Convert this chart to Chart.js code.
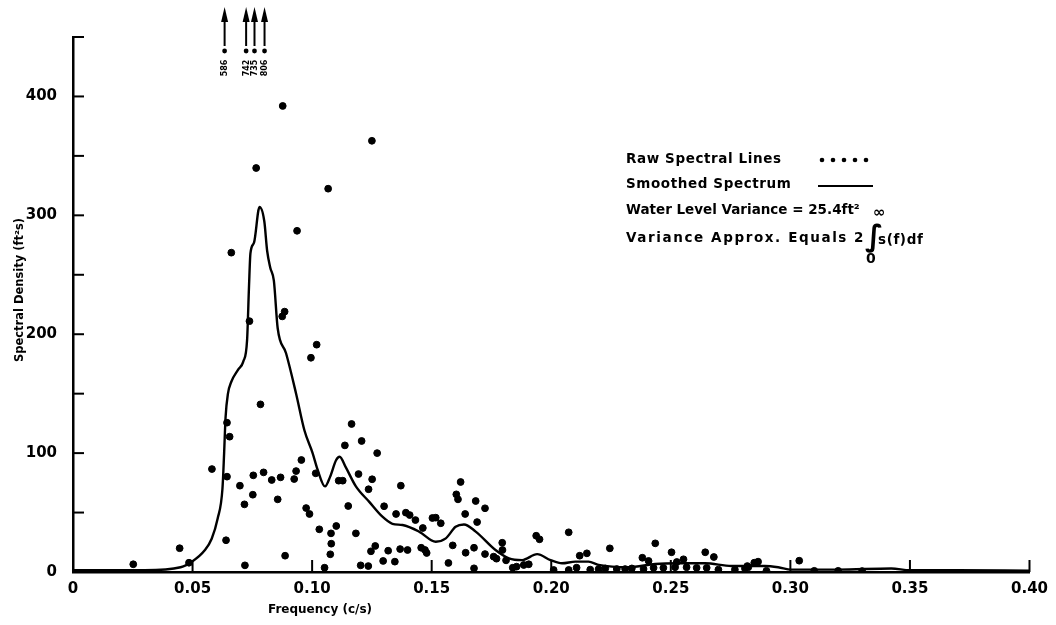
<!DOCTYPE html>
<html>
<head>
<meta charset="utf-8">
<script src="https://cdn.jsdelivr.net/npm/chart.js@4.4.1/dist/chart.umd.min.js"></script>
<style>
  html, body { margin: 0; padding: 0; background: #fff; }
</style>
</head>
<body>
<canvas id="spectrumChart" width="1056" height="625"></canvas>
<script>
    // Raw spectral lines (frequency c/s, density ft^2 s)
    const rawFreq = [
        0.0252, 0.0446, 0.0485, 0.0581, 0.0640, 0.0644, 0.0644, 0.0655, 0.0662, 0.0698,
        0.0717, 0.0719, 0.0738, 0.0752, 0.0754, 0.0766, 0.0784, 0.0797, 0.0831, 0.0856,
        0.0868, 0.0875, 0.0885, 0.0877, 0.0887, 0.0925, 0.0933, 0.0937, 0.0955, 0.0975,
        0.0989, 0.0995, 0.1015, 0.1019, 0.1030, 0.1052, 0.1067, 0.1076, 0.1079, 0.1080,
        0.1101, 0.1111, 0.1128, 0.1137, 0.1151, 0.1165, 0.1183, 0.1194, 0.1203, 0.1207,
        0.1235, 0.1236, 0.1246, 0.1250, 0.1251, 0.1264, 0.1272, 0.1297, 0.1301, 0.1318,
        0.1346, 0.1351, 0.1368, 0.1371, 0.1392, 0.1399, 0.1408, 0.1432, 0.1456, 0.1463,
        0.1472, 0.1479, 0.1503, 0.1517, 0.1538, 0.1570, 0.1588, 0.1603, 0.1610, 0.1621,
        0.1640, 0.1642, 0.1677, 0.1677, 0.1684, 0.1690, 0.1723, 0.1723, 0.1759, 0.1771,
        0.1795, 0.1796, 0.1811, 0.1839, 0.1855, 0.1885, 0.1906, 0.1937, 0.1951, 0.2010,
        0.2073, 0.2073, 0.2106, 0.2119, 0.2149, 0.2163, 0.2198, 0.2226, 0.2245, 0.2274,
        0.2309, 0.2337, 0.2381, 0.2386, 0.2407, 0.2428, 0.2435, 0.2469, 0.2503, 0.2518,
        0.2525, 0.2553, 0.2566, 0.2608, 0.2644, 0.2650, 0.2680, 0.2699, 0.2768, 0.2810,
        0.2820, 0.2824, 0.2849, 0.2865, 0.2900, 0.3037, 0.3100, 0.3200, 0.3300
    ];
    const rawDensity = [
        6.5, 20, 7.8, 86.6, 26.7, 125.6, 80.2, 113.8, 268.6, 72.6,
        56.9, 5.6, 211, 65, 81.3, 339.8, 141, 83.8, 77.4, 61.1,
        79.6, 215, 219, 392, 13.7, 78.2, 84.9, 287, 94.2, 53.8,
        48.8, 180.2, 83, 191.2, 35.9, 3.6, 322.4, 14.9, 32.5, 23.8,
        38.7, 76.8, 76.8, 106.5, 55.5, 124.5, 32.5, 82.4, 5.6, 110.2,
        5, 69.6, 17.4, 362.7, 78, 21.9, 100, 9.3, 55.3, 17.9,
        8.7, 48.8, 19.3, 72.6, 49.9, 18.5, 47.9, 43.7, 20.4, 37,
        18.5, 16, 45.4, 45.7, 41, 7.6, 22.4, 65.3, 61.1, 75.7,
        48.8, 16.2, 20.4, 3.1, 59.7, 42, 53.6, 15.1, 12.9, 11.2,
        24.6, 18.5, 9.8, 3.6, 4.5, 5.9, 6.5, 30.5, 27.5, 1.7,
        33.4, 1.7, 3.6, 13.7, 15.7, 2, 2.5, 3, 19.9, 2.5,
        2.5, 3, 12, 2.5, 9.3, 3.5, 24.1, 3.5, 16.6, 4,
        8.4, 10.7, 4, 3.5, 16.6, 3.5, 12.6, 2, 2, 3,
        5, 4, 7.8, 8.7, 1, 9.5, 1, 1, 0.8
    ];

    // Smoothed spectrum
    const smoothFreq = [
        0.000, 0.030, 0.045, 0.050, 0.055, 0.058, 0.0605, 0.0625, 0.0632, 0.0638,
        0.0648, 0.0662, 0.0690, 0.0712, 0.0728, 0.0736, 0.0742, 0.0757, 0.0780, 0.0800,
        0.0812, 0.0825, 0.0840, 0.0856, 0.0891, 0.0933, 0.0968, 0.1002, 0.1023, 0.1054,
        0.1075, 0.1100, 0.1115, 0.1141, 0.1183, 0.1239, 0.1294, 0.1336, 0.1378, 0.1447,
        0.1517, 0.1559, 0.1600, 0.1635, 0.1684, 0.1767, 0.1823, 0.1878, 0.1941, 0.1997,
        0.2045, 0.2101, 0.2156, 0.2198, 0.2323, 0.2435, 0.2532, 0.2643, 0.2754, 0.2893,
        0.2949, 0.3004, 0.3200, 0.3422, 0.3500, 0.3700, 0.4000
    ];
    const smoothDensity = [
        1.5, 1.5, 4, 9, 18, 28, 45, 70, 100, 130,
        150, 160, 170, 177, 195, 240, 268, 277, 307, 295,
        270, 256, 245, 205, 184, 150, 119, 100, 86, 72,
        80, 94, 97, 88, 72, 59, 46.5, 40.5, 39.5, 34,
        25.5, 28.3, 38, 40, 34, 18.5, 11.5, 10, 15, 10,
        7.3, 8.7, 8.7, 6, 4, 6.7, 7.3, 7.3, 5, 5,
        4, 2, 2, 3, 1.5, 1.5, 1
    ];

    // Lines that run off the top of the plot
    const offFreq = [0.0634, 0.0724, 0.0759, 0.0801];
    const offDensity = [586, 742, 735, 806];

    // Axis ticks
    const freqTicks = [0, 0.05, 0.10, 0.15, 0.20, 0.25, 0.30, 0.35, 0.40];
    const densityTicks = [0, 100, 200, 300, 400];
    const densityMinorTicks = [50, 150, 250, 350, 450];

    const FONT = '"DejaVu Sans", "Liberation Sans", sans-serif';

    // Inward ticks, arrows, legend and titles
    const annotate = {
        id: 'annotate',
        afterDraw(chart) {
            const ctx = chart.ctx;
            const xs = chart.scales.x, ys = chart.scales.y;
            const area = chart.chartArea;
            ctx.save();
            ctx.strokeStyle = '#000';
            ctx.fillStyle = '#000';
            ctx.lineWidth = 2;

            // y ticks pointing right
            densityTicks.concat(densityMinorTicks).forEach(v => {
                const py = ys.getPixelForValue(v);
                ctx.beginPath();
                ctx.moveTo(area.left, py);
                ctx.lineTo(area.left + 11, py);
                ctx.stroke();
            });
            // x ticks pointing up
            freqTicks.forEach(v => {
                const px = xs.getPixelForValue(v);
                ctx.beginPath();
                ctx.moveTo(px, area.bottom);
                ctx.lineTo(px, area.bottom - 12);
                ctx.stroke();
            });

            // off-scale raw lines
            offFreq.forEach((f, i) => {
                const px = xs.getPixelForValue(f);
                ctx.lineWidth = 2;
                ctx.beginPath();
                ctx.moveTo(px, 46);
                ctx.lineTo(px, 18);
                ctx.stroke();
                ctx.beginPath();
                ctx.moveTo(px, 7);
                ctx.lineTo(px - 3.5, 22);
                ctx.lineTo(px + 3.5, 22);
                ctx.closePath();
                ctx.fill();
                ctx.beginPath();
                ctx.arc(px, 51, 2.4, 0, Math.PI * 2);
                ctx.fill();
                ctx.save();
                ctx.translate(px + 0.5, 68);
                ctx.rotate(-Math.PI / 2);
                ctx.font = 'bold 8px ' + FONT;
                ctx.textAlign = 'center';
                ctx.textBaseline = 'middle';
                ctx.fillText(String(offDensity[i]), 0, 0);
                ctx.restore();
            });

            // legend block
            ctx.font = 'bold 13.5px ' + FONT;
            ctx.letterSpacing = '0.6px';
            ctx.textAlign = 'left';
            ctx.textBaseline = 'middle';
            const lx = 626;
            ctx.fillText('Raw Spectral Lines', lx, 159);
            for (let i = 0; i < 5; i++) {
                ctx.beginPath();
                ctx.arc(822 + i * 11, 160, 2.3, 0, Math.PI * 2);
                ctx.fill();
            }
            ctx.fillText('Smoothed Spectrum', lx, 184);
            ctx.lineWidth = 2;
            ctx.beginPath();
            ctx.moveTo(818, 186);
            ctx.lineTo(873, 186);
            ctx.stroke();
            ctx.letterSpacing = '0px';
            ctx.fillText('Water Level Variance = 25.4ft\u00B2', lx, 210);
            ctx.letterSpacing = '1.6px';
            const t4 = 'Variance Approx. Equals';
            ctx.fillText(t4, lx, 238);
            const tx = lx + ctx.measureText(t4).width + 6;
            ctx.fillText('2', tx, 238);
            const ix = tx + 11;
            ctx.letterSpacing = '0px';
            ctx.font = 'bold 30px ' + FONT;
            ctx.fillText('\u222B', ix, 238);
            ctx.font = 'bold 15px ' + FONT;
            ctx.fillText('\u221E', ix + 8, 213);
            ctx.font = 'bold 14px ' + FONT;
            ctx.fillText('0', ix + 1, 259);
            ctx.letterSpacing = '0.6px';
            ctx.font = 'bold 13.5px ' + FONT;
            ctx.fillText('s(f)df', ix + 13, 240);
            ctx.letterSpacing = '0px';

            // axis titles
            ctx.font = 'bold 12px ' + FONT;
            ctx.textAlign = 'center';
            ctx.fillText('Frequency (c/s)', 320, 610);
            ctx.save();
            ctx.translate(20, 290);
            ctx.rotate(-Math.PI / 2);
            ctx.font = 'bold 11.5px ' + FONT;
            ctx.fillText('Spectral Density (ft\u00B2s)', 0, 0);
            ctx.restore();

            ctx.restore();
        }
    };

    const ctx = document.getElementById('spectrumChart').getContext('2d');

    new Chart(ctx, {
        type: 'scatter',
        data: {
            datasets: [{
                label: 'Raw Spectral Lines',
                data: rawFreq.map((f, i) => ({ x: f, y: rawDensity[i] })),
                backgroundColor: '#000',
                borderColor: '#000',
                pointRadius: 3.4,
                pointHoverRadius: 3.4,
                showLine: false
            }, {
                label: 'Smoothed Spectrum',
                data: smoothFreq.map((f, i) => ({ x: f, y: smoothDensity[i] })),
                borderColor: '#000',
                borderWidth: 2.4,
                pointRadius: 0,
                showLine: true,
                cubicInterpolationMode: 'monotone'
            }]
        },
        options: {
            responsive: false,
            animation: false,
            devicePixelRatio: 1,
            layout: { padding: { left: 0, top: 37, right: 24, bottom: 0 } },
            plugins: {
                legend: { display: false },
                tooltip: { enabled: false }
            },
            scales: {
                x: {
                    type: 'linear',
                    min: 0,
                    max: 0.4,
                    afterBuildTicks: s => { s.ticks = freqTicks.map(v => ({ value: v })); },
                    afterFit: s => { s.height = 53; },
                    grid: { display: false, drawTicks: false },
                    border: { display: true, color: '#000', width: 2.5 },
                    ticks: {
                        color: '#000',
                        padding: 8,
                        maxRotation: 0,
                        font: { family: FONT, weight: 'bold', size: 15 },
                        callback: v => v === 0 ? '0' : v.toFixed(2)
                    }
                },
                y: {
                    type: 'linear',
                    min: 0,
                    max: 450,
                    afterBuildTicks: s => { s.ticks = densityTicks.map(v => ({ value: v })); },
                    afterFit: s => { s.width = 73; },
                    grid: { display: false, drawTicks: false },
                    border: { display: true, color: '#000', width: 2.5 },
                    ticks: {
                        color: '#000',
                        padding: 16,
                        font: { family: FONT, weight: 'bold', size: 15 }
                    }
                }
            }
        },
        plugins: [annotate]
    });
</script>
</body>
</html>
